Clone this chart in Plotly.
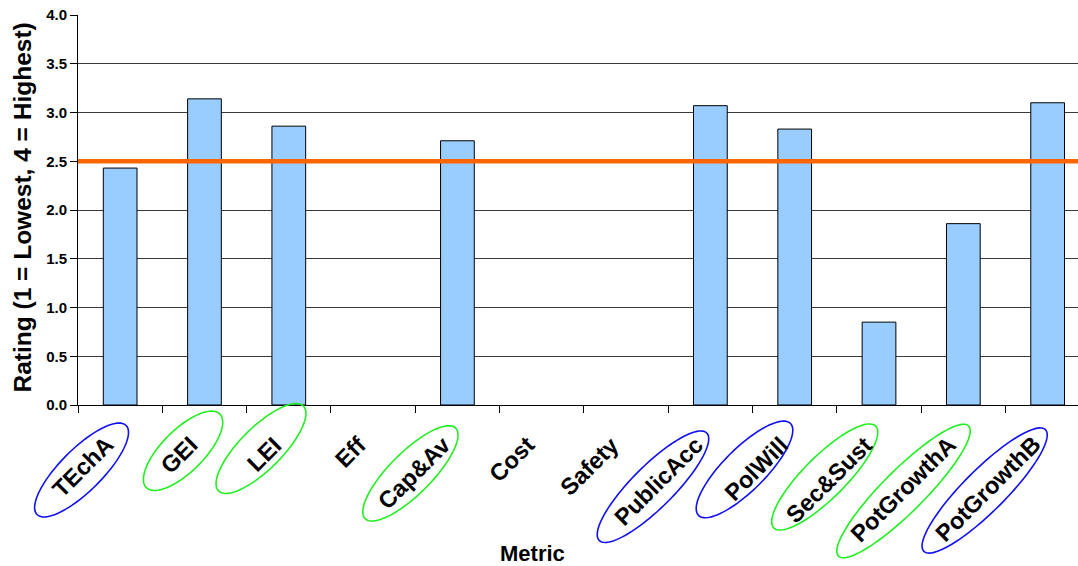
import numpy as np
import plotly.graph_objects as go

# ---- data -------------------------------------------------------------
metrics = ["TEchA", "GEI", "LEI", "Eff", "Cap&Av", "Cost", "Safety",
           "PublicAcc", "PolWill", "Sec&Sust", "PotGrowthA", "PotGrowthB"]
ratings = [2.43, 3.14, 2.86, None, 2.71, None, None,
           3.07, 2.83, 0.85, 1.86, 3.10]
threshold = 2.5
y_ticks = [0.0, 0.5, 1.0, 1.5, 2.0, 2.5, 3.0, 3.5, 4.0]

# ---- layout geometry --------------------------------------------------
W, H = 1078, 566
M_L, M_R, M_T, M_B = 78, 0, 15, 161
X_RANGE = [-0.5, 11.36]
Y_RANGE = [0, 4]
plot_w = W - M_L - M_R
plot_h = H - M_T - M_B
px_per_x = plot_w / (X_RANGE[1] - X_RANGE[0])

FONT = "Arial, Liberation Sans, sans-serif"
BLUE = "#1010f0"
GREEN = "#22ee22"

# rings drawn round some category names:
# (category, colour, centre offset x px, centre offset below axis px, half-length px)
rings = [
    ("TEchA", BLUE, -38.6, 65.0, 63),
    ("GEI", GREEN, -21.4, 45.8, 52),
    ("LEI", GREEN, -27.8, 43.5, 60),
    ("Cap&Av", GREEN, -47.0, 68.4, 64),
    ("PublicAcc", BLUE, -57.4, 81.7, 76),
    ("PolWill", BLUE, -50.2, 64.4, 65),
    ("Sec&Sust", GREEN, -54.3, 72.0, 72),
    ("PotGrowthA", GREEN, -59.8, 86.0, 92),
    ("PotGrowthB", BLUE, -63.0, 85.5, 86),
]
RING_HALF_WIDTH = 21


def ring_path(cat_index, dx, dy, a, b):
    """Tilted ellipse around a category name, in paper coordinates."""
    t = np.linspace(0, 2 * np.pi, 97)
    c, s = np.cos(np.pi / 4), np.sin(np.pi / 4)
    # screen offsets (y down), long axis pointing up-right
    ox = a * np.cos(t) * c + b * np.sin(t) * s
    oy = -a * np.cos(t) * s + b * np.sin(t) * c
    centre_px = (cat_index - X_RANGE[0]) * px_per_x
    xs = (centre_px + dx + ox) / plot_w
    ys = -(dy + oy) / plot_h
    pts = [f"{x:.5f},{y:.5f}" for x, y in zip(xs, ys)]
    return "M " + " L ".join(pts) + " Z"


fig = go.Figure()

fig.add_trace(go.Bar(
    x=list(range(len(metrics))),
    y=ratings,
    width=0.4,
    marker=dict(color="#99ccff", line=dict(color="#000000", width=1)),
    hoverinfo="skip",
))

shapes = [
    dict(type="line", xref="paper", yref="y", x0=0, x1=1,
         y0=threshold, y1=threshold, layer="above",
         line=dict(color="#ff6600", width=4.5)),
]
for name, color, dx, dy, a in rings:
    shapes.append(dict(
        type="path", xref="paper", yref="paper", layer="above",
        path=ring_path(metrics.index(name), dx, dy, a, RING_HALF_WIDTH),
        line=dict(color=color, width=1.6),
        fillcolor="rgba(0,0,0,0)",
    ))

annotations = []
for i, name in enumerate(metrics):
    annotations.append(dict(
        x=i, y=0, xref="x", yref="paper",
        text=name, showarrow=False, textangle=-45,
        xanchor="right", yanchor="top", xshift=1, yshift=-24,
        font=dict(family=FONT, size=23.5, color="#000000", weight="bold"),
    ))

annotations.append(dict(
    x=0, y=0.505, xref="paper", yref="paper",
    text="Rating (1 = Lowest, 4 = Highest)", showarrow=False, textangle=-90,
    xanchor="center", yanchor="middle", xshift=-55.5,
    font=dict(family=FONT, size=24.5, color="#000000", weight="bold"),
))
annotations.append(dict(
    x=(532 - M_L) / plot_w, y=0, xref="paper", yref="paper",
    text="Metric", showarrow=False,
    xanchor="center", yanchor="middle", yshift=-148,
    font=dict(family=FONT, size=22, color="#000000", weight="bold"),
))

fig.update_layout(
    width=W, height=H,
    margin=dict(l=M_L, r=M_R, t=M_T, b=M_B, pad=0),
    paper_bgcolor="#ffffff", plot_bgcolor="#ffffff",
    showlegend=False,
    shapes=shapes,
    annotations=annotations,
    xaxis=dict(
        range=X_RANGE,
        # tick marks sit on the boundaries between categories
        tickvals=[i - 0.5 for i in range(len(metrics))],
        showticklabels=False, ticks="outside",
        ticklen=7, tickcolor="#000000", tickwidth=1,
        showline=True, linecolor="#000000", linewidth=1,
        showgrid=False, zeroline=False, fixedrange=True,
    ),
    yaxis=dict(
        range=Y_RANGE, tickvals=y_ticks, tickformat=".1f",
        ticks="outside", ticklen=7, tickcolor="#000000", tickwidth=1,
        showline=True, linecolor="#000000", linewidth=1,
        showgrid=True, gridcolor="#3a3a3a", gridwidth=1,
        zeroline=False, fixedrange=True,
        tickfont=dict(family=FONT, size=15, color="#000000", weight="bold"),
    ),
)

fig.write_html("out.html", config={"displayModeBar": False})
